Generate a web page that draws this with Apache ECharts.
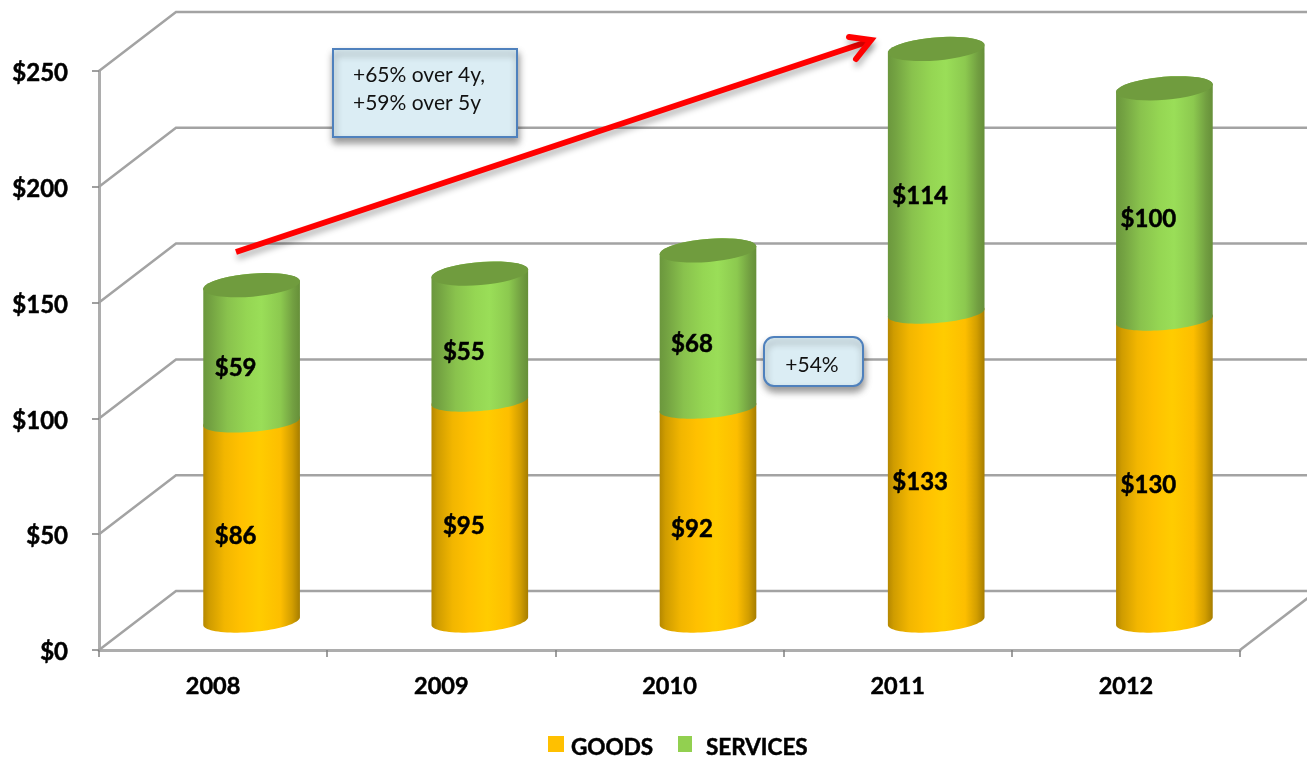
<!DOCTYPE html>
<html>
<head>
<meta charset="utf-8">
<title>Goods and services</title>
<style>
html, body { margin: 0; padding: 0; background: #fff; }
#main { width: 1307px; height: 759px; }
</style>
<script src="https://cdn.jsdelivr.net/npm/echarts@6/dist/echarts.min.js"></script>
</head>
<body>
<div id="main"></div>
<script>
var years = ['2008', '2009', '2010', '2011', '2012'];
var goods = [86, 95, 92, 133, 130];
var services = [59, 55, 68, 114, 100];
var yTicks = [0, 50, 100, 150, 200, 250];
var note1 = '+65% over 4y,\n+59% over 5y';
var note2 = '+54%';

var FONT = 'Lato, "Noto Sans", sans-serif';
var DEPTH_X = 77, DEPTH_Y = -59; // back wall offset
var BAR_X = 38.5, BAR_Y = -29;   // cylinders stand mid depth
var RX = 48.5, TILT = 4.8 * Math.PI / 180;

// half or whole ellipse as a list of points
function arc(cx, cy, ry, from, to) {
	var pts = [];
	for (var i = 0; i <= 40; i++) {
		var t = from + (to - from) * i / 40;
		pts.push([
			cx + RX * Math.cos(t) * Math.cos(TILT) + ry * Math.sin(t) * Math.sin(TILT),
			cy - RX * Math.cos(t) * Math.sin(TILT) + ry * Math.sin(t) * Math.cos(TILT)
		]);
	}
	return pts;
}

function sideFill(stops) {
	return new echarts.graphic.LinearGradient(0, 0, 1, 0, stops.map(function (s) {
		return { offset: s[0], color: s[1] };
	}));
}

var goodsFill = sideFill([[0, '#b58800'], [0.06, '#cf9c00'], [0.22, '#f2b600'], [0.38, '#ffc000'], [0.58, '#ffcc00'], [0.8, '#fdbe00'], [0.92, '#d29e00'], [1, '#a67d00']]);
var servicesFill = sideFill([[0, '#6b973d'], [0.08, '#74a342'], [0.25, '#89c24d'], [0.45, '#95d653'], [0.6, '#9ade58'], [0.8, '#8cc94f'], [0.93, '#729f41'], [1, '#668f39']]);

function cylinder(fill, withTop) {
	return function (params, api) {
		var base = api.coord([api.value(0), api.value(1)]);
		var top = api.coord([api.value(0), api.value(2)]);
		var mid = api.coord([api.value(0), (api.value(1) + api.value(2)) / 2]);
		var cx = base[0] + BAR_X;
		var baseY = base[1] + BAR_Y, topY = top[1] + BAR_Y;
		var lowRy = api.value(1) === 0 ? 11 : 10;
		var children = [{
			type: 'polygon',
			shape: { points: arc(cx, baseY, lowRy, Math.PI, 0).concat(arc(cx, topY, 11.5, 0, -Math.PI)) },
			style: { fill: fill }
		}];
		if (withTop) {
			children.push({
				type: 'polygon',
				shape: { points: arc(cx, topY, 11.5, 0, 2 * Math.PI) },
				style: { fill: '#709c3e' }
			});
		}
		children.push({
			type: 'text',
			x: base[0] + 22.5,
			y: mid[1] - 14,
			style: {
				text: '$' + (api.value(2) - api.value(1)),
				font: 'bold 24px ' + FONT,
				fill: '#000',
				stroke: '#000',
				lineWidth: 0.5,
				align: 'center',
				verticalAlign: 'middle'
			}
		});
		return { type: 'group', children: children };
	};
}

function wallLine(params, api) {
	var y = api.coord([0, api.value(1)])[1];
	var x0 = params.coordSys.x, x1 = x0 + params.coordSys.width;
	var children = [{
		type: 'polyline',
		shape: { points: [[x0, y], [x0 + DEPTH_X, y + DEPTH_Y], [x1 + DEPTH_X, y + DEPTH_Y]] },
		style: { fill: null, stroke: '#a3a3a3', lineWidth: 2.5 }
	}];
	if (api.value(1) === 0) {
		children.push({
			type: 'line',
			shape: { x1: x1, y1: y, x2: x1 + DEPTH_X, y2: y + DEPTH_Y },
			style: { stroke: '#a3a3a3', lineWidth: 2.5 }
		});
	}
	return { type: 'group', children: children };
}

var goodsData = [], servicesData = [], wallData = [];
for (var i = 0; i < years.length; i++) {
	goodsData.push([i, 0, goods[i]]);
	servicesData.push([i, goods[i], goods[i] + services[i]]);
}
for (var j = 0; j < yTicks.length; j++) {
	wallData.push([0, yTicks[j]]);
}

var noteShadow = { shadowBlur: 7, shadowOffsetX: 1, shadowOffsetY: 5, shadowColor: 'rgba(0,0,0,0.4)' };
var arrowShadow = { shadowBlur: 6, shadowOffsetX: 1, shadowOffsetY: 5, shadowColor: 'rgba(0,0,0,0.3)' };

function legendItem(name, left, size, textGap) {
	return {
		data: [name],
		left: left,
		top: 731,
		icon: 'rect',
		itemWidth: size,
		itemHeight: 16,
		formatter: function (n) { return '{t|' + n + '}'; },
		textStyle: {
			rich: {
				t: {
					color: '#000', fontSize: 22.5, fontWeight: 'bold', fontFamily: FONT,
					textBorderColor: '#000', textBorderWidth: 0.5,
					padding: [8, 0, 0, textGap]
				}
			}
		}
	};
}

var myChart = echarts.init(document.getElementById('main'));
var option = {
	animation: false,
	backgroundColor: '#fff',
	textStyle: { fontFamily: FONT },
	grid: { left: 99, right: 67, top: 71, bottom: 109 },
	legend: [legendItem('GOODS', 543, 16, 2), legendItem('SERVICES', 673, 14, 9)],
	xAxis: {
		type: 'category',
		data: years,
		axisLine: { show: true, lineStyle: { color: '#adadad', width: 3 } },
		axisTick: { show: true, length: 7, lineStyle: { color: '#808080', width: 1.5 } },
		axisLabel: {
			color: '#000', fontSize: 23.5, fontWeight: 'bold', margin: 24, fontFamily: FONT,
			textBorderColor: '#000', textBorderWidth: 0.5
		}
	},
	yAxis: {
		type: 'value',
		min: 0,
		max: 250,
		interval: 50,
		axisLine: { show: true, lineStyle: { color: '#adadad', width: 3 } },
		axisTick: { show: true, length: 7, lineStyle: { color: '#808080', width: 1.5 } },
		splitLine: { show: false },
		axisLabel: {
			margin: 31,
			formatter: function (v) { return '{t|$' + v + '}'; },
			rich: {
				t: {
					color: '#000', fontSize: 24, fontWeight: 'bold', fontFamily: FONT,
					textBorderColor: '#000', textBorderWidth: 0.5,
					padding: [5, 0, 0, 0]
				}
			}
		}
	},
	series: [
		{ name: 'walls', type: 'custom', renderItem: wallLine, data: wallData, encode: { x: 0, y: 1 }, silent: true, z: 1 },
		{ name: 'GOODS', type: 'custom', renderItem: cylinder(goodsFill, false), data: goodsData, encode: { x: 0, y: [1, 2] }, itemStyle: { color: '#ffc000' }, z: 3 },
		{ name: 'SERVICES', type: 'custom', renderItem: cylinder(servicesFill, true), data: servicesData, encode: { x: 0, y: [1, 2] }, itemStyle: { color: '#92d050' }, z: 4 }
	],
	graphic: [
		{
			type: 'rect', z: 10,
			shape: { x: 333, y: 49, width: 184, height: 88 },
			style: Object.assign({ fill: '#dbedf4', stroke: '#4f81bd', lineWidth: 2 }, noteShadow)
		},
		{
			type: 'text', z: 11, x: 353, y: 89,
			style: { text: note1, font: '21px ' + FONT, fill: '#111', lineHeight: 28, align: 'left', verticalAlign: 'middle' }
		},
		{
			type: 'rect', z: 10,
			shape: { x: 764, y: 337, width: 99, height: 49, r: 10 },
			style: Object.assign({ fill: '#dbedf4', stroke: '#4f81bd', lineWidth: 2 }, noteShadow)
		},
		{
			type: 'text', z: 11, x: 812, y: 365,
			style: { text: note2, font: '21px ' + FONT, fill: '#111', align: 'center', verticalAlign: 'middle' }
		},
		{
			type: 'line', z: 12,
			shape: { x1: 236, y1: 252, x2: 870, y2: 41 },
			style: Object.assign({ stroke: '#ff0000', lineWidth: 6 }, arrowShadow)
		},
		{
			type: 'polyline', z: 12,
			shape: { points: [[849, 37], [871, 40], [856, 59]] },
			style: Object.assign({ fill: null, stroke: '#ff0000', lineWidth: 6, lineCap: 'round' }, arrowShadow)
		}
	]
};
myChart.setOption(option);
</script>
</body>
</html>
